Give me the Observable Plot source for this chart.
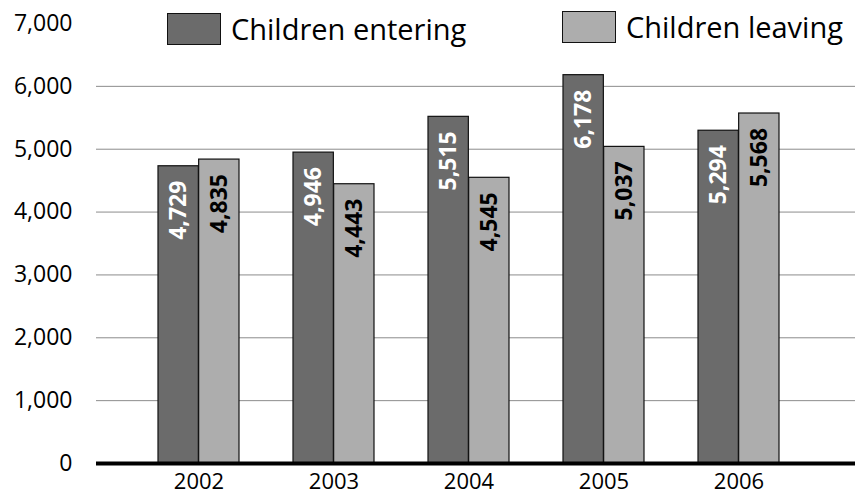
<!DOCTYPE html>
<html>
<head>
<meta charset="utf-8">
<script src="https://cdn.jsdelivr.net/npm/d3@7"></script>
<script src="https://cdn.jsdelivr.net/npm/@observablehq/plot@0.6"></script>
<style>
  html, body { margin: 0; padding: 0; background: #fff; }
  #wrap { position: relative; width: 855px; height: 496px; font-family: "Open Sans", sans-serif; }
  .lg { position: absolute; display: flex; align-items: center; font-size: 29px; color: #000; white-space: nowrap; }
  .sw { width: 52px; height: 30px; border: 1.5px solid #111; margin-right: 10px; box-sizing: content-box; }
</style>
</head>
<body>
<div id="wrap"></div>
<script>
const years = ["2002", "2003", "2004", "2005", "2006"];
const entering = [4729, 4946, 5515, 6178, 5294];
const leaving = [4835, 4443, 4545, 5037, 5568];
const seriesNames = ["Children entering", "Children leaving"];
const seriesColors = ["#6b6b6b", "#adadad"];
const labelColors = ["#ffffff", "#000000"];
const yTicks = [0, 1000, 2000, 3000, 4000, 5000, 6000, 7000];
const gridTicks = [1000, 2000, 3000, 4000, 5000, 6000];

const dataE = years.map((y, i) => ({year: y, value: entering[i]}));
const dataL = years.map((y, i) => ({year: y, value: leaving[i]}));

const fmt = d3.format(",");
const xRange = [129.25, 806.75];
const padIn = 0.4, padOut = 0.2;
const step = (xRange[1] - xRange[0]) / (years.length - padIn + 2 * padOut);
const bw = step * (1 - padIn);
const half = bw / 2;

const chart = Plot.plot({
  width: 855,
  height: 496,
  marginTop: 23,
  marginBottom: 33,
  marginLeft: 96,
  marginRight: 0,
  style: {fontFamily: "Open Sans, sans-serif", fontSize: "23px", color: "#000", background: "#fff"},
  x: {domain: years, range: xRange, paddingInner: padIn, paddingOuter: padOut, label: null},
  y: {domain: [0, 7000], label: null},
  marks: [
    Plot.ruleY(gridTicks, {stroke: "#8c8c8c", strokeWidth: 1}),
    Plot.barY(dataE, {x: "year", y: "value", fill: seriesColors[0], stroke: "#111", strokeWidth: 1.2, insetRight: half}),
    Plot.barY(dataL, {x: "year", y: "value", fill: seriesColors[1], stroke: "#111", strokeWidth: 1.2, insetLeft: half}),
    Plot.ruleY([0], {stroke: "#000", strokeWidth: 4}),
    Plot.text(dataE, {x: "year", y: "value", text: d => fmt(d.value), rotate: -90, dx: -half / 2, dy: 44, fill: labelColors[0], fontWeight: "bold", fontSize: 23}),
    Plot.text(dataL, {x: "year", y: "value", text: d => fmt(d.value), rotate: -90, dx: half / 2, dy: 44, fill: labelColors[1], fontWeight: "bold", fontSize: 23}),
    Plot.axisY({ticks: yTicks, tickSize: 0, tickPadding: 24, tickFormat: d => fmt(d), label: null, fill: "#000"}),
    Plot.axisX({tickSize: 0, tickPadding: 10, label: null, fill: "#000", fontSize: 22})
  ]
});

const wrap = document.getElementById("wrap");
wrap.appendChild(chart);

const legendPos = [{left: 167, top: 9}, {left: 562, top: 7}];
seriesNames.forEach((name, i) => {
  const item = document.createElement("div");
  item.className = "lg";
  item.style.left = legendPos[i].left + "px";
  item.style.top = legendPos[i].top + "px";
  const sw = document.createElement("span");
  sw.className = "sw";
  sw.style.background = seriesColors[i];
  const tx = document.createElement("span");
  tx.textContent = name;
  item.appendChild(sw);
  item.appendChild(tx);
  wrap.appendChild(item);
});
chart.style.position = "absolute";
chart.style.left = "0";
chart.style.top = "0";
</script>
</body>
</html>
